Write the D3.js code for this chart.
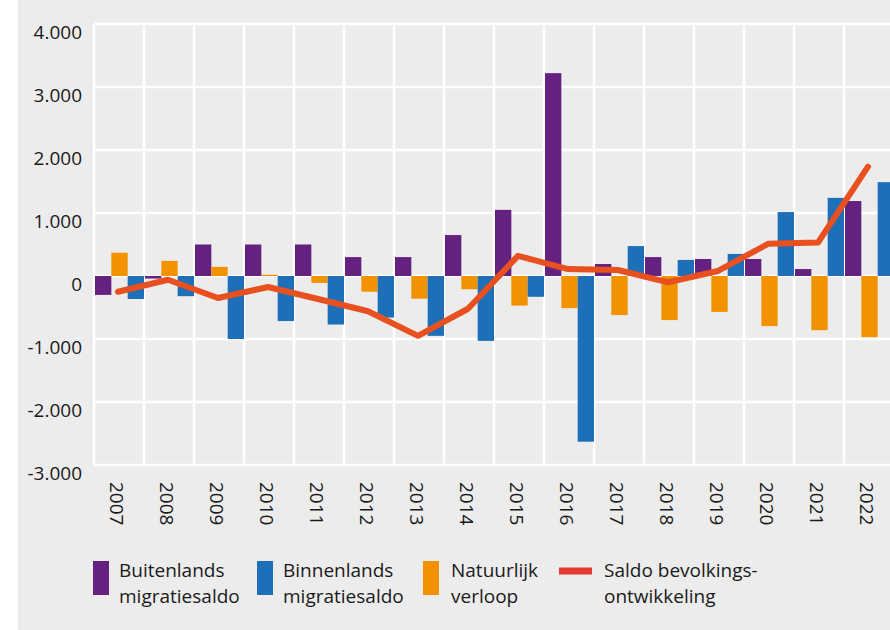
<!DOCTYPE html>
<html>
<head>
<meta charset="utf-8">
<script src="https://cdn.jsdelivr.net/npm/d3@7"></script>
<style>
  html, body { margin: 0; padding: 0; background: #ffffff; }
  svg { display: block; font-family: "Open Sans", "Noto Sans", sans-serif; }
</style>
</head>
<body>
<svg id="chart" width="890" height="630"></svg>
<script>
// ---- Data ----
const years = ["2007","2008","2009","2010","2011","2012","2013","2014","2015","2016","2017","2018","2019","2020","2021","2022"];
const buitenlands = [-300, -40, 500, 500, 500, 300, 300, 650, 1050, 3220, 190, 300, 270, 270, 110, 1190];
const binnenlands = [-365, -320, -1000, -715, -770, -660, -950, -1030, -330, -2630, 475, 255, 350, 1015, 1240, 1490];
const natuurlijk = [370, 240, 145, 20, -110, -250, -360, -210, -470, -510, -620, -700, -570, -795, -860, -970];
const saldo = [-250, -60, -350, -175, -365, -560, -950, -520, 320, 110, 95, -100, 80, 510, 530, 1735];
const yTicks = [-3000, -2000, -1000, 0, 1000, 2000, 3000, 4000];
const seriesNames = ["Buitenlands migratiesaldo", "Binnenlands migratiesaldo", "Natuurlijk verloop", "Saldo bevolkings-ontwikkeling"];

const colors = { b: "#65217f", n: "#1d70b7", o: "#f39200", line: "#e8501f", legendLine: "#e63a2f" };

const svg = d3.select("#chart");
const W = 890, H = 630;

svg.append("rect").attr("x", 18).attr("y", 0).attr("width", W - 18).attr("height", H).attr("fill", "#ececec");

const x = d3.scaleBand().domain(years).range([94, 894]).padding(0);
const x1 = d3.scaleBand().domain(["b", "o", "n"]).range([1, x.bandwidth()]).padding(0);
const y = d3.scaleLinear().domain([-3000, 4000]).range([465, 24]);

const nl = d3.formatLocale({ decimal: ",", thousands: ".", grouping: [3], currency: ["", ""], minus: "-" });
const fmt = nl.format(",d");

// grid
const grid = svg.append("g");
grid.selectAll("line.h").data(yTicks).join("line")
  .attr("x1", 94).attr("x2", 894)
  .attr("y1", d => y(d)).attr("y2", d => y(d))
  .attr("stroke", "#ffffff").attr("stroke-width", 2.5);
const bounds = years.map(yr => x(yr)).concat([x(years[years.length - 1]) + x.bandwidth()]);
grid.selectAll("line.v").data(bounds).join("line")
  .attr("x1", d => d).attr("x2", d => d)
  .attr("y1", y(4000)).attr("y2", y(-3000))
  .attr("stroke", "#ffffff").attr("stroke-width", 2.5);

// bars
const rows = years.map((yr, i) => ({ yr, b: buitenlands[i], n: binnenlands[i], o: natuurlijk[i] }));
const barG = svg.append("g");
["b", "o", "n"].forEach(k => {
  barG.selectAll("rect." + k).data(rows).join("rect")
    .attr("class", k)
    .attr("x", d => x(d.yr) + x1(k))
    .attr("width", x1.bandwidth())
    .attr("y", d => y(Math.max(0, d[k])))
    .attr("height", d => Math.abs(y(d[k]) - y(0)))
    .attr("fill", colors[k]);
});

// line
const lineGen = d3.line()
  .x((d, i) => x(years[i]) + x.bandwidth() / 2 - 1)
  .y(d => y(d));
svg.append("path").datum(saldo)
  .attr("d", lineGen)
  .attr("fill", "none")
  .attr("stroke", colors.line)
  .attr("stroke-width", 6)
  .attr("stroke-linejoin", "round")
  .attr("stroke-linecap", "round");

// y axis labels
svg.append("g").selectAll("text").data(yTicks).join("text")
  .attr("x", 82).attr("y", d => y(d) + 15)
  .attr("text-anchor", "end")
  .attr("font-size", 19)
  .attr("fill", "#1a1a1a")
  .text(d => fmt(d));

// x axis labels
svg.append("g").selectAll("text").data(years).join("text")
  .attr("transform", d => `translate(${x(d) + x.bandwidth() / 2 - 2},482) rotate(90)`)
  .attr("text-anchor", "start")
  .attr("dominant-baseline", "central")
  .attr("font-size", 19)
  .attr("fill", "#1a1a1a")
  .text(d => d);

// legend
const legend = svg.append("g");
const legendItems = [
  { type: "rect", color: colors.b, sx: 93, tx: 119, lines: ["Buitenlands", "migratiesaldo"] },
  { type: "rect", color: colors.n, sx: 257, tx: 283, lines: ["Binnenlands", "migratiesaldo"] },
  { type: "rect", color: colors.o, sx: 423, tx: 451, lines: ["Natuurlijk", "verloop"] },
  { type: "line", color: colors.legendLine, sx: 559, tx: 604, lines: ["Saldo bevolkings-", "ontwikkeling"] }
];
legendItems.forEach(it => {
  if (it.type === "rect") {
    legend.append("rect").attr("x", it.sx).attr("y", 561).attr("width", 16).attr("height", 34).attr("fill", it.color);
  } else {
    legend.append("line").attr("x1", it.sx).attr("x2", it.sx + 33).attr("y1", 571).attr("y2", 571)
      .attr("stroke", it.color).attr("stroke-width", 7);
  }
  const t = legend.append("text").attr("x", it.tx).attr("y", 577).attr("font-size", 19).attr("fill", "#1a1a1a");
  it.lines.forEach((ln, j) => {
    t.append("tspan").attr("x", it.tx).attr("y", 577 + j * 26).text(ln);
  });
});
</script>
</body>
</html>
